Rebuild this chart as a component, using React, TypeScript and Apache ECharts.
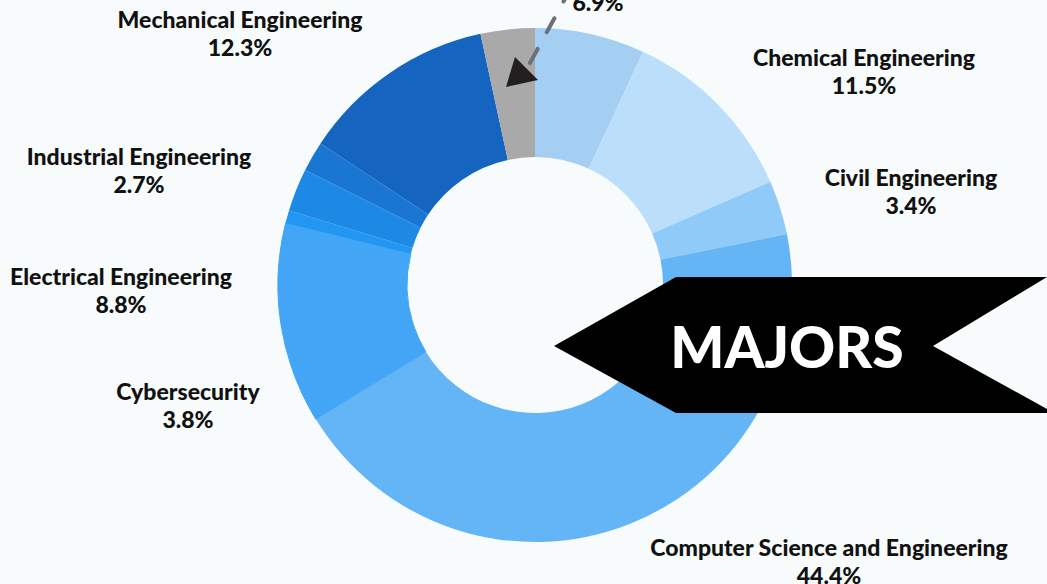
import React, { useEffect, useRef } from "react";
import * as echarts from "echarts";

const names = [
  "",
  "Chemical Engineering",
  "Civil Engineering",
  "Computer Science and Engineering",
  "Cybersecurity",
  "Electrical Engineering",
  "",
  "Industrial Engineering",
  "",
  "Mechanical Engineering",
  "",
];
const values = [6.9, 11.5, 3.4, 44.4, 3.8, 8.8, 0.8, 2.7, 1.9, 12.3, 3.4];
const colors = [
  "#a5cff2",
  "#bbdefb",
  "#90caf9",
  "#64b5f6",
  "#42a5f5",
  "#42a5f5",
  "#2196f3",
  "#1e88e5",
  "#1976d2",
  "#1565c0",
  "#a9a9a9",
];
const showLabel = [true, true, true, true, true, true, false, true, false, true, false];
const labelPos: [number, number][] = [
  [598, 2],
  [864, 71],
  [911, 191],
  [829, 561],
  [188, 405],
  [121, 290],
  [0, 0],
  [139, 170],
  [0, 0],
  [240, 33],
  [0, 0],
];
const title = "MAJORS";

export default function App() {
  const ref = useRef<HTMLDivElement>(null);
  useEffect(() => {
    document.body.style.margin = "0";
    const chart = echarts.init(ref.current!, null, { renderer: "svg" });
    const font = "Lato, 'Noto Sans', sans-serif";
    const textStyle = {
      fontFamily: font,
      fontWeight: 900,
      fontSize: 23,
      color: "#111",
      lineHeight: 28,
      align: "center",
    };
    chart.setOption({
      animation: false,
      backgroundColor: "#f7fbfb",
      series: [
        {
          type: "pie",
          center: [535, 285],
          radius: [128, 257],
          startAngle: 90,
          clockwise: true,
          avoidLabelOverlap: false,
          labelLine: { show: false },
          label: {
            position: "outside",
            formatter: (p: any) =>
              p.name ? `{n|${p.name}}\n{v|${p.value}%}` : `{v|${p.value}%}`,
            rich: { n: textStyle, v: textStyle },
          },
          labelLayout: (params: any) => {
            const [x, y] = labelPos[params.dataIndex];
            return { x, y, align: "center", verticalAlign: "middle" };
          },
          emphasis: { disabled: true },
          data: values.map((v, i) => ({
            name: names[i],
            value: v,
            itemStyle: {
              color: colors[i],
              borderColor: colors[i],
              borderWidth: i === 4 || i === 5 ? 1 : 0,
            },
            label: { show: showLabel[i] },
          })),
        },
      ],
      graphic: [
        {
          type: "line",
          shape: { x1: 530, y1: 63, x2: 566, y2: -3 },
          style: { stroke: "#6b7178", lineWidth: 4, lineDash: [16, 19], lineCap: "round" },
          z: 10,
        },
        {
          type: "polygon",
          shape: { points: [[515, 57], [538, 80], [506, 87]] },
          style: { fill: "#231f20" },
          z: 10,
        },
        {
          type: "polygon",
          shape: {
            points: [
              [554, 346],
              [676, 277],
              [1047, 277],
              [933, 346],
              [1047, 409],
              [1047, 413],
              [676, 413],
            ],
          },
          style: { fill: "#000000" },
          z: 10,
        },
        {
          type: "text",
          x: 787,
          y: 346,
          style: {
            text: title,
            fill: "#ffffff",
            font: `900 57px ${font}`,
            align: "center",
            verticalAlign: "middle",
          },
          z: 11,
        },
      ],
    });
    return () => chart.dispose();
  }, []);
  return <div ref={ref} style={{ width: 1047, height: 584 }} />;
}
